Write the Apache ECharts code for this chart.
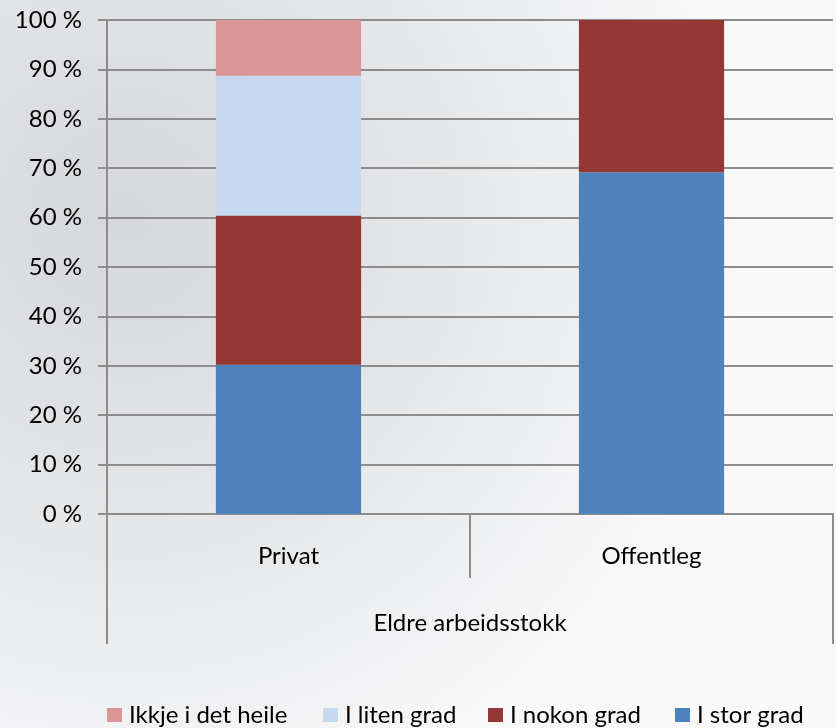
<!DOCTYPE html>
<html>
<head>
<meta charset="utf-8">
<script src="https://cdn.jsdelivr.net/npm/echarts@6/dist/echarts.min.js"></script>
<style>
html,body{margin:0;padding:0;background:#f4f5f6;}
#chart{width:836px;height:728px;}
</style>
</head>
<body>
<div id="chart"></div>
<script>
// ---- data ----
const categories = ['Privat', 'Offentleg'];
const groupLabels = ['Eldre arbeidsstokk'];
const seriesNames = ['Ikkje i det heile', 'I liten grad', 'I nokon grad', 'I stor grad'];
const ikkjeIDetHeile = [11.3, 0];
const iLitenGrad = [28.3, 0];
const iNokonGrad = [30.2, 30.8];
const iStorGrad = [30.2, 69.2];
const yMin = 0, yMax = 100, yStep = 10;
const ySuffix = ' %';

// ---- styling ----
const FONT = 'Lato';
const GRID_COLOR = '#8c8c8c';
const colors = {
  'Ikkje i det heile': '#d99694',
  'I liten grad': '#c6d9f1',
  'I nokon grad': '#953735',
  'I stor grad': '#4f81bd'
};
const legendLeft = [107, 323, 488, 675];

const chart = echarts.init(document.getElementById('chart'), null, {renderer: 'canvas'});

const stackOrder = [
  ['I stor grad', iStorGrad],
  ['I nokon grad', iNokonGrad],
  ['I liten grad', iLitenGrad],
  ['Ikkje i det heile', ikkjeIDetHeile]
];

const series = stackOrder.map(([name, vals]) => ({
  name: name,
  type: 'bar',
  stack: 'total',
  barWidth: '40%',
  xAxisIndex: 0,
  yAxisIndex: 0,
  itemStyle: {color: colors[name]},
  emphasis: {disabled: true},
  data: vals.map(v => v === 0 ? null : v)
}));

const legends = seriesNames.map((n, i) => ({
  data: [n],
  left: legendLeft[i],
  top: 703,
  padding: 0,
  itemWidth: 15,
  itemHeight: 14,
  icon: 'rect',
  selectedMode: false,
  textStyle: {fontFamily: FONT, fontSize: 24, color: '#000', padding: [0, 0, 0, 2]}
}));

chart.setOption({
  animation: false,
  backgroundColor: new echarts.graphic.RadialGradient(0.15, 0.3, 0.85, [
    {offset: 0, color: '#d5d7da'},
    {offset: 0.55, color: '#e6e8ea'},
    {offset: 1, color: '#f9f9fa'}
  ]),
  grid: {left: 107, right: 3, top: 20, bottom: 214, containLabel: false},
  legend: legends,
  xAxis: [
    {
      type: 'category',
      data: categories,
      position: 'bottom',
      axisLine: {show: true, lineStyle: {color: GRID_COLOR, width: 2}},
      axisTick: {show: true, length: 64, alignWithLabel: false, lineStyle: {color: GRID_COLOR, width: 2}},
      axisLabel: {fontFamily: FONT, fontSize: 24, color: '#000', margin: 30},
      splitLine: {show: false}
    },
    {
      type: 'category',
      data: groupLabels,
      position: 'bottom',
      offset: 0,
      axisLine: {show: false},
      axisTick: {show: true, length: 130, lineStyle: {color: GRID_COLOR, width: 2}},
      axisLabel: {fontFamily: FONT, fontSize: 24, color: '#000', margin: 97},
      splitLine: {show: false}
    }
  ],
  yAxis: {
    type: 'value',
    min: yMin,
    max: yMax,
    interval: yStep,
    axisLine: {show: true, lineStyle: {color: GRID_COLOR, width: 2}},
    axisTick: {show: true, length: 9, inside: false, lineStyle: {color: GRID_COLOR, width: 2}},
    axisLabel: {fontFamily: FONT, fontSize: 24, color: '#000', margin: 25, formatter: '{value}' + ySuffix},
    splitLine: {show: true, lineStyle: {color: GRID_COLOR, width: 2}}
  },
  series: series
});
</script>
</body>
</html>
